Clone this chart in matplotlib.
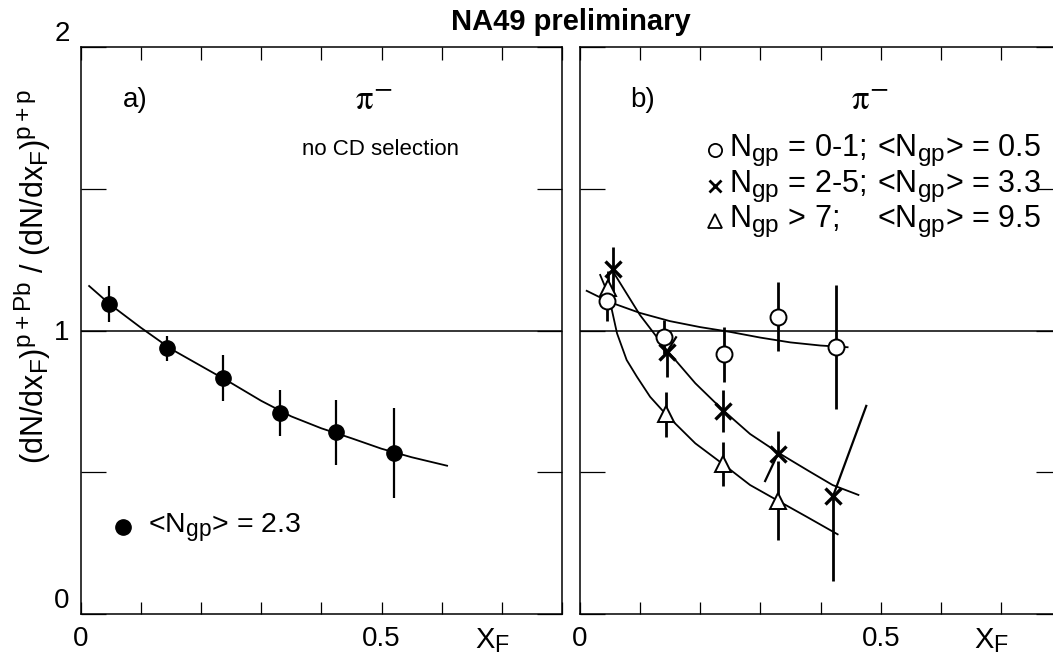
import matplotlib
matplotlib.use("Agg")
import matplotlib.pyplot as plt
from matplotlib.ticker import MultipleLocator, FixedLocator
import matplotlib._mathtext as _mt

_mt.SHRINK_FACTOR = 0.8

plt.rcParams['font.family'] = ['Liberation Sans', 'DejaVu Sans']
plt.rcParams['mathtext.fontset'] = 'custom'
plt.rcParams['mathtext.rm'] = 'Liberation Sans'
plt.rcParams['mathtext.it'] = 'Liberation Sans'

# ---------------- data ----------------
# panel a) no CD selection, <Ngp> = 2.3
a_x = [0.047, 0.144, 0.237, 0.332, 0.424, 0.520]
a_y = [1.093, 0.937, 0.834, 0.708, 0.641, 0.568]
a_err = [0.063, 0.045, 0.081, 0.081, 0.114, 0.160]
a_fit_x = [0.014, 0.05, 0.10, 0.15, 0.20, 0.25, 0.30, 0.35, 0.40, 0.45, 0.50, 0.55, 0.609]
a_fit_y = [1.157, 1.09, 1.01, 0.935, 0.875, 0.815, 0.752, 0.697, 0.655, 0.620, 0.583, 0.553, 0.523]

# panel b) circles: Ngp = 0-1
c_x = [0.046, 0.1405, 0.240, 0.329, 0.425]
c_y = [1.105, 0.976, 0.917, 1.049, 0.941]
c_err = [0.07, 0.06, 0.097, 0.123, 0.218]
c_fit_x = [0.0116, 0.05, 0.10, 0.15, 0.20, 0.25, 0.30, 0.35, 0.40, 0.445]
c_fit_y = [1.14, 1.10, 1.062, 1.033, 1.012, 0.995, 0.975, 0.958, 0.947, 0.941]

# crosses: Ngp = 2-5
x_x = [0.0547, 0.145, 0.2375, 0.329, 0.421]
x_y = [1.216, 0.925, 0.716, 0.564, 0.417]
x_err_lo = [0.08, 0.088, 0.075, 0.0, 0.30]
x_err_hi = [0.08, 0.0, 0.075, 0.08, 0.0]
x_fit_x = [0.0547, 0.10, 0.145, 0.192, 0.2375, 0.283, 0.329, 0.38, 0.42, 0.463]
x_fit_y = [1.21, 1.055, 0.93, 0.814, 0.72, 0.635, 0.57, 0.505, 0.455, 0.42]
# slanted error-bar strokes of the crosses (start -> end)
x_slant_x0 = [0.145, 0.329, 0.421]
x_slant_y0 = [0.925, 0.564, 0.417]
x_slant_x1 = [0.160, 0.308, 0.476]
x_slant_y1 = [0.976, 0.469, 0.734]

# triangles: Ngp > 7
t_x = [0.0475, 0.1434, 0.2385, 0.329]
t_y = [1.149, 0.704, 0.528, 0.400]
t_err = [0.06, 0.078, 0.078, 0.14]
t_fit_x = [0.034, 0.048, 0.062, 0.078, 0.095, 0.117, 0.1434, 0.192, 0.2385, 0.283, 0.329, 0.377, 0.4285]
t_fit_y = [1.196, 1.125, 0.99, 0.896, 0.837, 0.766, 0.704, 0.602, 0.528, 0.455, 0.400, 0.343, 0.281]

xtick_major = [0.0, 0.5]
xtick_labels = ['0', '0.5']
ytick_major = [0, 1, 2]
ytick_labels = ['0', '1', '2']

legend_a = r'<N$_{\mathregular{gp}}$> = 2.3'
legend_b_left = [r'N$_{\mathregular{gp}}$ = 0-1;', r'N$_{\mathregular{gp}}$ = 2-5;', r'N$_{\mathregular{gp}}$ > 7;']
legend_b_right = [r'<N$_{\mathregular{gp}}$> = 0.5', r'<N$_{\mathregular{gp}}$> = 3.3', r'<N$_{\mathregular{gp}}$> = 9.5']

# ---------------- figure ----------------
W, H = 1053, 671
fig = plt.figure(figsize=(W / 100, H / 100), dpi=100)

def fx(px):
    return px / W

def fy(py):
    return 1 - py / H

axA = fig.add_axes([fx(80.7), fy(614), fx(562) - fx(80.7), fy(47) - fy(614)])
axB = fig.add_axes([fx(579.7), fy(614), fx(1061.3) - fx(579.7), fy(47) - fy(614)])

for ax in (axA, axB):
    ax.set_xlim(0, 0.8)
    ax.set_ylim(0, 2)
    for s in ax.spines.values():
        s.set_linewidth(1.1)
    ax.xaxis.set_major_locator(FixedLocator(xtick_major))
    ax.xaxis.set_minor_locator(MultipleLocator(0.1))
    ax.set_xticklabels(xtick_labels)
    ax.yaxis.set_major_locator(FixedLocator(ytick_major))
    ax.yaxis.set_minor_locator(FixedLocator([0.5, 1.5]))
    ax.set_yticklabels(ytick_labels)
    ax.tick_params(axis='x', which='both', direction='in', top=True, bottom=True,
                   length=9, width=0.9, labelsize=20, pad=9)
    ax.tick_params(axis='y', which='both', direction='in', left=True, right=True,
                   length=18, width=0.9, labelsize=20, pad=8)
    ax.axhline(1.0, color='black', lw=1.1, zorder=1)
    ax.text(0.655, -0.095, r'X$_{\mathregular{F}}$', fontsize=21, ha='left', va='center',
            clip_on=False)

axB.tick_params(axis='y', labelleft=False)
ylabs = axA.get_yticklabels()
ylabs[0].set_va('bottom')
ylabs[2].set_va('bottom')

# --- panel a ---
axA.plot(a_fit_x, a_fit_y, color='black', lw=1.3, zorder=2)
axA.errorbar(a_x, a_y, yerr=a_err, fmt='o', color='black', ms=11, elinewidth=1.6,
             capsize=0, zorder=3)
axA.text(0.07, 1.813, 'a)', fontsize=20, ha='left', va='center')
axA.text(0.487, 1.813, r'$\mathrm{\pi}^{-}$', fontsize=25, ha='center', va='center',
         math_fontfamily='stix')
axA.text(0.499, 1.637, 'no CD selection', fontsize=16, ha='center', va='center')
axA.plot([0.07], [0.306], 'o', color='black', ms=11)
axA.text(0.112, 0.306, legend_a, fontsize=20.5, ha='left', va='center')

# --- panel b ---
axB.plot(c_fit_x, c_fit_y, color='black', lw=1.3, zorder=2)
axB.plot(x_fit_x, x_fit_y, color='black', lw=1.3, zorder=2)
axB.plot(t_fit_x, t_fit_y, color='black', lw=1.3, zorder=2)

axB.errorbar(t_x, t_y, yerr=t_err, fmt='none', ecolor='black', elinewidth=2.0, capsize=0, zorder=3)
axB.plot(t_x, t_y, '^', ms=12, mfc='white', mec='black', mew=1.4, ls='none', zorder=4)

axB.errorbar(x_x, x_y, yerr=[x_err_lo, x_err_hi], fmt='none', ecolor='black', elinewidth=2.0,
             capsize=0, zorder=3)
for i in range(len(x_slant_x0)):
    axB.plot([x_slant_x0[i], x_slant_x1[i]], [x_slant_y0[i], x_slant_y1[i]],
             color='black', lw=1.6, zorder=3)
axB.plot(x_x, x_y, 'x', ms=11, mec='black', mew=2.4, ls='none', zorder=5)

axB.errorbar(c_x, c_y, yerr=c_err, fmt='none', ecolor='black', elinewidth=2.0, capsize=0, zorder=3)
axB.plot(c_x, c_y, 'o', ms=11.5, mfc='white', mec='black', mew=1.4, ls='none', zorder=6)

axB.text(0.084, 1.813, 'b)', fontsize=20, ha='left', va='center')
axB.text(0.482, 1.813, r'$\mathrm{\pi}^{-}$', fontsize=25, ha='center', va='center',
         math_fontfamily='stix')

leg_y = [1.637, 1.510, 1.386]
leg_mx = 0.2248
axB.plot([leg_mx], [leg_y[0]], 'o', ms=9.5, mfc='white', mec='black', mew=1.3)
axB.plot([leg_mx], [leg_y[1]], 'x', ms=8.5, mec='black', mew=2.0)
axB.plot([leg_mx], [leg_y[2]], '^', ms=10.5, mfc='white', mec='black', mew=1.3)
for i in range(3):
    axB.text(0.248, leg_y[i], legend_b_left[i], fontsize=22, ha='left', va='center')
    axB.text(0.4934, leg_y[i], legend_b_right[i], fontsize=22, ha='left', va='center')

fig.text(fx(32), fy(276), r'(dN/dx$_{\mathregular{F}}$)$^{\mathregular{p+Pb}}$ / (dN/dx$_{\mathregular{F}}$)$^{\mathregular{p+p}}$',
         rotation=90, fontsize=22, ha='center', va='center')
fig.text(fx(571), fy(30), 'NA49 preliminary', fontsize=21, fontweight='bold',
         ha='center', va='baseline')

fig.savefig('out.png', dpi=100)
